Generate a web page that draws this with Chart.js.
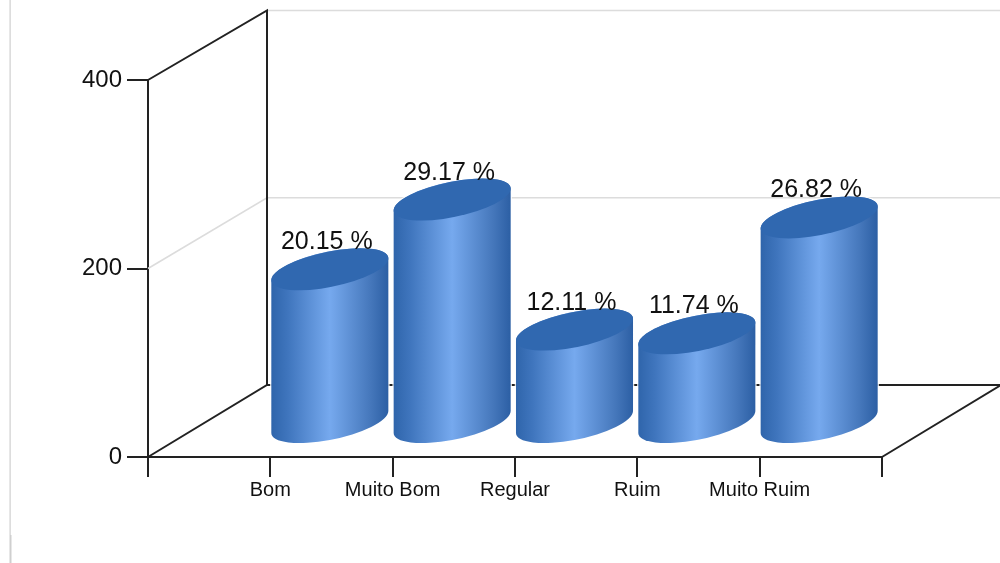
<!DOCTYPE html>
<html><head><meta charset="utf-8">
<style>html,body{margin:0;padding:0;background:#fff;overflow:hidden}canvas{display:block;filter:blur(.45px)}</style>
<script src="https://cdn.jsdelivr.net/npm/chart.js@4"></script></head>
<body><canvas id="c" width="1000" height="563"></canvas>
<script>
const categories = ['Bom','Muito Bom','Regular','Ruim','Muito Ruim'];
const counts = [161,235,97,93,216];
const percentLabels = ['20.15 %','29.17 %','12.11 %','11.74 %','26.82 %'];
const yTicks = [0,200,400];

const FONT = '"Liberation Sans", Arial, sans-serif';
const DEPTH_X = 119, DEPTH_Y = 72, BACK_SCALE = 0.9934;
const RIM_A = 50, RIM_B = 30.4, RIM_C = -21;

const line = (ctx, pts, color, w) => {
  ctx.save(); ctx.strokeStyle = color; ctx.lineWidth = w; ctx.lineJoin = 'miter';
  ctx.beginPath(); pts.forEach((p,i)=> i ? ctx.lineTo(p[0],p[1]) : ctx.moveTo(p[0],p[1]));
  ctx.stroke(); ctx.restore();
};

const frame3d = {
  id:'frame3d',
  beforeDraw(chart){
    const ctx = chart.ctx;
    ctx.save(); ctx.fillStyle='#fff'; ctx.fillRect(0,0,chart.width,chart.height);
    ctx.fillStyle='#cfcfcf'; ctx.fillRect(9.5,0,1.2,535); ctx.fillRect(9.5,535,2,28);
    ctx.restore();
  },
  beforeDatasetsDraw(chart){
    const ctx = chart.ctx, {x,y} = chart.scales;
    const L = x.left, R = x.right, y0 = y.getPixelForValue(0);
    const bx = L+DEPTH_X;
    const back = v => y0-DEPTH_Y-(y0-y.getPixelForValue(v))*BACK_SCALE;
    const mid = y.getPixelForValue(200), top = y.getPixelForValue(400);
    line(ctx,[[L,mid],[bx,back(200)],[1000,back(200)]],'#dcdcdc',1.6);
    line(ctx,[[bx,back(400)],[1000,back(400)]],'#dcdcdc',1.6);
    line(ctx,[[L,top],[bx,back(400)],[bx,back(0)]],'#222',2);
    line(ctx,[[L,y0],[bx,back(0)],[R+DEPTH_X,back(0)],[R,y0]],'#222',2);
  },
  afterDatasetsDraw(chart){
    const ctx = chart.ctx;
    const els = chart.getDatasetMeta(0).data;
    els.forEach((el,i)=>{
      const v = chart.data.datasets[0].data[i];
      if (v==null) return;
      const cx = el.x + DEPTH_X/2, yt = el.y - DEPTH_Y/2, yb = el.base - DEPTH_Y/2 + 2;
      const tr = Math.atan2(RIM_B,RIM_A), tl = tr+Math.PI;
      const halfW = Math.hypot(RIM_A,RIM_B);
      const path = () => {
        ctx.beginPath();
        ctx.save(); ctx.transform(RIM_A,0,RIM_B,RIM_C,cx,yb); ctx.arc(0,0,1,tl,tr+2*Math.PI); ctx.restore();
        ctx.save(); ctx.transform(RIM_A,0,RIM_B,RIM_C,cx,yt); ctx.arc(0,0,1,tr,tl); ctx.restore();
        ctx.closePath();
      };
      ctx.save();
      path(); ctx.strokeStyle='rgba(255,255,255,.85)'; ctx.lineWidth=2.5; ctx.stroke();
      const g = ctx.createLinearGradient(cx-halfW,0,cx+halfW,0);
      g.addColorStop(0,'#2f65ab'); g.addColorStop(.14,'#3f75bd');
      g.addColorStop(.5,'#76a9ee'); g.addColorStop(.85,'#4577bb'); g.addColorStop(1,'#2c5fa4');
      path(); ctx.fillStyle=g; ctx.fill();
      ctx.beginPath();
      ctx.save(); ctx.transform(RIM_A,0,RIM_B,RIM_C,cx,yt); ctx.arc(0,0,1,0,2*Math.PI); ctx.restore();
      ctx.fillStyle='#3068b0'; ctx.fill();
      ctx.fillStyle='#111'; ctx.font='25px '+FONT; ctx.textAlign='center'; ctx.textBaseline='alphabetic';
      ctx.fillText(percentLabels[i-1], cx-3, yt-20);
      ctx.restore();
    });
  }
};

new Chart(document.getElementById('c'),{
  type:'bar',
  data:{
    labels:['',...categories,''],
    datasets:[{data:[null,...counts,null],backgroundColor:'transparent',borderWidth:0}]
  },
  options:{
    responsive:false,animation:false,devicePixelRatio:1,
    layout:{padding:{top:80,right:118,left:0,bottom:0}},
    plugins:{legend:{display:false},tooltip:{enabled:false},title:{display:false}},
    scales:{
      x:{
        offset:false,
        grid:{offset:false,drawOnChartArea:false,drawTicks:true,tickLength:20,color:'#222',lineWidth:2},
        border:{color:'#222',width:2},
        ticks:{autoSkip:false,maxRotation:0,minRotation:0,padding:1,color:'#111',font:{family:FONT,size:20}},
        afterFit(s){s.height=106;}
      },
      y:{
        min:0,max:400,
        afterBuildTicks(s){s.ticks=yTicks.map(value=>({value}));},
        grid:{drawOnChartArea:false,drawTicks:true,tickLength:21,color:'#222',lineWidth:2},
        border:{color:'#222',width:2},
        ticks:{padding:5,color:'#111',font:{family:FONT,size:24}},
        afterFit(s){s.width=148;}
      }
    }
  },
  plugins:[frame3d]
});
</script></body></html>
